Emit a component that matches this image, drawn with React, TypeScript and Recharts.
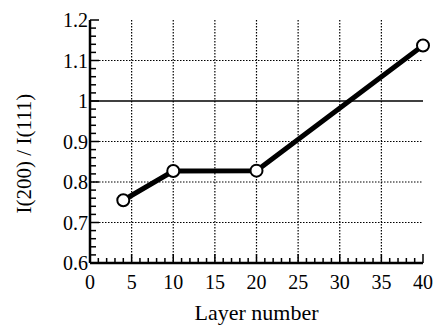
import { CartesianGrid, Line, LineChart, ReferenceLine, XAxis, YAxis } from "recharts"

const layers = [4, 10, 20, 40]
const ratio = [0.755, 0.827, 0.828, 1.137]

const xMajor = [0, 5, 10, 15, 20, 25, 30, 35, 40]
const yMajor = [0.6, 0.7, 0.8, 0.9, 1, 1.1, 1.2]
const yLabels = ["0.6", "0.7", "0.8", "0.9", "1", "1.1", "1.2"]

const xMinor: number[] = []
for (let i = 0; i <= 40; i++) xMinor.push(i)
const yMinor: number[] = []
for (let i = 0; i <= 30; i++) yMinor.push(Math.round((0.6 + i * 0.02) * 100) / 100)

const data = layers.map((l, i) => ({ layer: l, ratio: ratio[i] }))

const font = "'Liberation Serif', 'Times New Roman', serif"

const isMajorY = (v: number) => yMajor.some((m) => Math.abs(m - v) < 1e-6)

function BottomTick(props: any) {
  const { x, y, payload } = props
  const major = xMajor.includes(payload.value)
  return (
    <g>
      <line x1={x} x2={x} y1={y} y2={y - (major ? 9 : 5)} stroke="#000" strokeWidth={1.5} />
      {major && (
        <text x={x} y={y + 26} textAnchor="middle" style={{ fontFamily: font, fontSize: 20 }} fill="#000">
          {payload.value}
        </text>
      )}
    </g>
  )
}

function TopTick(props: any) {
  const { x, y, payload } = props
  const major = xMajor.includes(payload.value)
  return <line x1={x} x2={x} y1={y} y2={y + (major ? 9 : 5)} stroke="#000" strokeWidth={1.5} />
}

function LeftTick(props: any) {
  const { x, y, payload } = props
  const major = isMajorY(payload.value)
  const idx = yMajor.findIndex((m) => Math.abs(m - payload.value) < 1e-6)
  return (
    <g>
      <line x1={x} x2={x + (major ? 9 : 6)} y1={y} y2={y} stroke="#000" strokeWidth={1.5} />
      {major && (
        <text x={x - 2} y={y} dy="0.35em" textAnchor="end" style={{ fontFamily: font, fontSize: 20 }} fill="#000">
          {yLabels[idx]}
        </text>
      )}
    </g>
  )
}

function RightTick(props: any) {
  const { x, y, payload } = props
  const major = isMajorY(payload.value)
  return <line x1={x} x2={x - (major ? 9 : 6)} y1={y} y2={y} stroke="#000" strokeWidth={1.5} />
}

export default function App() {
  return (
    <div style={{ position: "absolute", left: 0, top: 0 }}>
      <LineChart
        width={438}
        height={326}
        data={data}
        margin={{ top: 20, right: 15, left: 0, bottom: 0 }}
      >
        <CartesianGrid
          stroke="#000"
          strokeDasharray="1.5 1.5"
          strokeWidth={1.2}
          verticalValues={[5, 10, 15, 20, 25, 30, 35]}
          horizontalValues={[0.7, 0.8, 0.9, 1.1]}
        />
        <ReferenceLine y={1} stroke="#000" strokeWidth={1.5} />
        <XAxis
          dataKey="layer"
          type="number"
          domain={[0, 40]}
          ticks={xMinor}
          interval={0}
          tickSize={0}
          tickMargin={0}
          tick={<BottomTick />}
          axisLine={{ stroke: "#000", strokeWidth: 2.5 }}
          height={63}
          label={{ value: "Layer number", position: "insideBottom", offset: 6, fill: "#000", style: { fontFamily: font, fontSize: 22 } }}
        />
        <XAxis
          xAxisId="top"
          orientation="top"
          type="number"
          domain={[0, 40]}
          ticks={xMinor}
          interval={0}
          tickSize={0}
          tickMargin={0}
          tick={<TopTick />}
          axisLine={{ stroke: "#000", strokeWidth: 2.5 }}
          height={0}
        />
        <YAxis
          type="number"
          domain={[0.6, 1.2]}
          allowDataOverflow
          ticks={yMinor}
          interval={0}
          tickSize={0}
          tickMargin={0}
          tick={<LeftTick />}
          axisLine={{ stroke: "#000", strokeWidth: 2.5 }}
          width={90}
          label={{
            value: "I(200) / I(111)",
            angle: -90,
            position: "insideLeft",
            offset: 24,
            dy: 12,
            fill: "#000",
            style: { textAnchor: "middle", fontFamily: font, fontSize: 21 },
          }}
        />
        <YAxis
          yAxisId="right"
          orientation="right"
          type="number"
          domain={[0.6, 1.2]}
          ticks={yMinor}
          interval={0}
          tickSize={0}
          tickMargin={0}
          tick={<RightTick />}
          axisLine={{ stroke: "#000", strokeWidth: 2.5 }}
          width={0}
        />
        <Line
          dataKey="ratio"
          type="linear"
          stroke="#000"
          strokeWidth={5}
          dot={{ r: 6, fill: "#fff", stroke: "#000", strokeWidth: 2 }}
          isAnimationActive={false}
        />
      </LineChart>
    </div>
  )
}
